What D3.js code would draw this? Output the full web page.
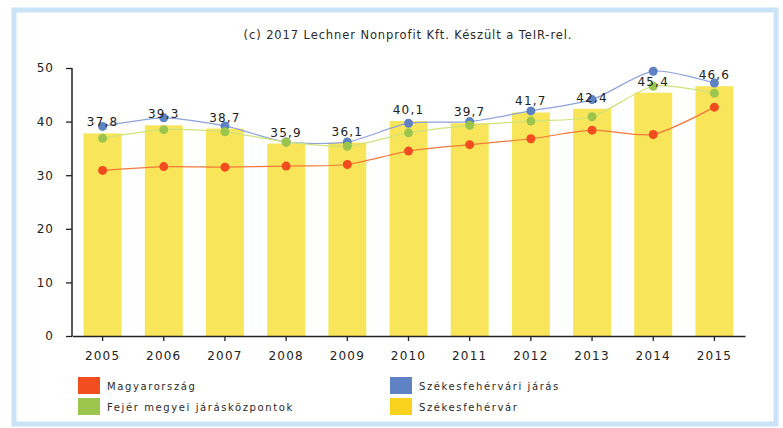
<!DOCTYPE html>
<html>
<head>
<meta charset="utf-8">
<script src="https://cdn.jsdelivr.net/npm/d3@7"></script>
<style>
  body { margin: 0; background: #fff; }
  svg { display: block; font-family: "DejaVu Sans", Verdana, sans-serif; }
</style>
</head>
<body>
<script>
(function(){

//chart data
var years = ["2005", "2006", "2007", "2008", "2009", "2010", "2011", "2012", "2013", "2014", "2015"];
var szekesfehervar = [37.8, 39.3, 38.7, 35.9, 36.1, 40.1, 39.7, 41.7, 42.4, 45.4, 46.6]; //bars
var magyarorszag = [30.9, 31.6, 31.5, 31.7, 32.0, 34.5, 35.7, 36.8, 38.4, 37.6, 42.7];
var jaras = [39.1, 40.7, 39.2, 36.2, 36.2, 39.7, 40.0, 42.0, 44.1, 49.4, 47.2];
var fejer = [36.9, 38.5, 38.1, 36.2, 35.4, 37.9, 39.3, 40.1, 40.9, 46.6, 45.3];
var yTicks = [0, 10, 20, 30, 40, 50];
var legendNames = ["Magyarország", "Székesfehérvári járás", "Fejér megyei járásközpontok", "Székesfehérvár"];
var titleText = "(c) 2017 Lechner Nonprofit Kft. Készült a TeIR-rel.";

window.onload = drawChart();

function drawChart(){

  //frame dimensions
  var width = 783,
      height = 428;

  var svg = d3.select("body")
      .append("svg")
      .attr("width", width)
      .attr("height", height);

  //light blue scan frame
  svg.append("rect")
      .attr("x", 14)
      .attr("y", 10)
      .attr("width", 762)
      .attr("height", 414)
      .attr("fill", "none")
      .attr("stroke", "#c9e4f6")
      .attr("stroke-width", 5);

  svg.append("text")
      .attr("x", 408)
      .attr("y", 39)
      .attr("text-anchor", "middle")
      .style("font-size", "11.5px")
      .style("letter-spacing", "0.9px")
      .attr("fill", "#2a2a2a")
      .text(titleText);

  //scales
  var x = d3.scaleBand()
      .domain(years)
      .range([72, 745])
      .paddingInner(0.38)
      .paddingOuter(0.19);

  var y = d3.scaleLinear()
      .domain([0, 50])
      .range([336, 68]);

  var cx = function(i){ return x(years[i]) + x.bandwidth() / 2; };

  //bars
  svg.selectAll(".bar")
      .data(szekesfehervar)
      .enter()
      .append("rect")
      .attr("class", "bar")
      .attr("x", function(d, i){ return x(years[i]); })
      .attr("y", function(d){ return y(d); })
      .attr("width", x.bandwidth())
      .attr("height", function(d){ return y(0) - y(d); })
      .attr("fill", "#f8e55a");

  //axes
  var yAxis = d3.axisLeft(y)
      .tickValues(yTicks)
      .tickSize(6)
      .tickPadding(12)
      .tickFormat(d3.format("d"));

  var gy = svg.append("g")
      .attr("transform", "translate(72,0)")
      .call(yAxis);

  var xAxis = d3.axisBottom(x)
      .tickSize(5)
      .tickPadding(10)
      .tickSizeOuter(0);

  var gx = svg.append("g")
      .attr("transform", "translate(0,336)")
      .call(xAxis);

  [gx, gy].forEach(function(g){
    g.select(".domain").attr("stroke", "#222").attr("stroke-width", 1.5);
    g.selectAll(".tick line").attr("stroke", "#222").attr("stroke-width", 1.3);
    g.selectAll(".tick text")
        .attr("fill", "#222")
        .style("font-size", "12px")
        .style("font-family", "'DejaVu Sans', Verdana, sans-serif");
  });
  gx.selectAll(".tick text").style("letter-spacing", "1.2px");
  gy.selectAll(".tick text").style("letter-spacing", "1px");
  gy.select(".domain").attr("d", "M0," + y(50) + "V" + y(0));

  //smooth lines with dots
  var series = [
    {values: jaras, line: "#8ea2dc", dot: "#5f82c4"},
    {values: fejer, line: "#cfe37a", dot: "#9cc54e"},
    {values: magyarorszag, line: "#f37a3c", dot: "#f24d1f"}
  ];

  var lineGen = d3.line()
      .x(function(d, i){ return cx(i); })
      .y(function(d){ return y(d); })
      .curve(d3.curveCardinal.tension(0.3));

  series.forEach(function(s){
    svg.append("path")
        .attr("d", lineGen(s.values))
        .attr("fill", "none")
        .attr("stroke", s.line)
        .attr("stroke-width", 1.2);
  });

  series.forEach(function(s){
    svg.selectAll(null)
        .data(s.values)
        .enter()
        .append("circle")
        .attr("cx", function(d, i){ return cx(i); })
        .attr("cy", function(d){ return y(d); })
        .attr("r", 4.5)
        .attr("fill", s.dot);
  });

  //bar value labels
  svg.selectAll(".lbl")
      .data(szekesfehervar)
      .enter()
      .append("text")
      .attr("class", "lbl")
      .attr("x", function(d, i){ return cx(i); })
      .attr("y", function(d){ return y(d) - 7; })
      .attr("text-anchor", "middle")
      .style("font-size", "12px")
      .style("letter-spacing", "1.2px")
      .attr("fill", "#222")
      .text(function(d){ return d3.format(".1f")(d).replace(".", ","); });

  //legend
  var legendColors = ["#f24d1f", "#5f82c4", "#9cc54e", "#f8d21c"];
  var legend = svg.selectAll(".legend")
      .data(legendNames)
      .enter()
      .append("g")
      .attr("class", "legend")
      .attr("transform", function(d, i){
        return "translate(" + (i % 2 === 0 ? 78 : 390) + "," + (i < 2 ? 377 : 398) + ")";
      });

  legend.append("rect")
      .attr("width", 22)
      .attr("height", 17)
      .attr("fill", function(d, i){ return legendColors[i]; });

  legend.append("text")
      .attr("x", 29)
      .attr("y", 12.5)
      .style("font-size", "10px")
      .style("letter-spacing", "1.6px")
      .attr("fill", "#2a2a2a")
      .text(function(d){ return d; });
};

})();
</script>
</body>
</html>
